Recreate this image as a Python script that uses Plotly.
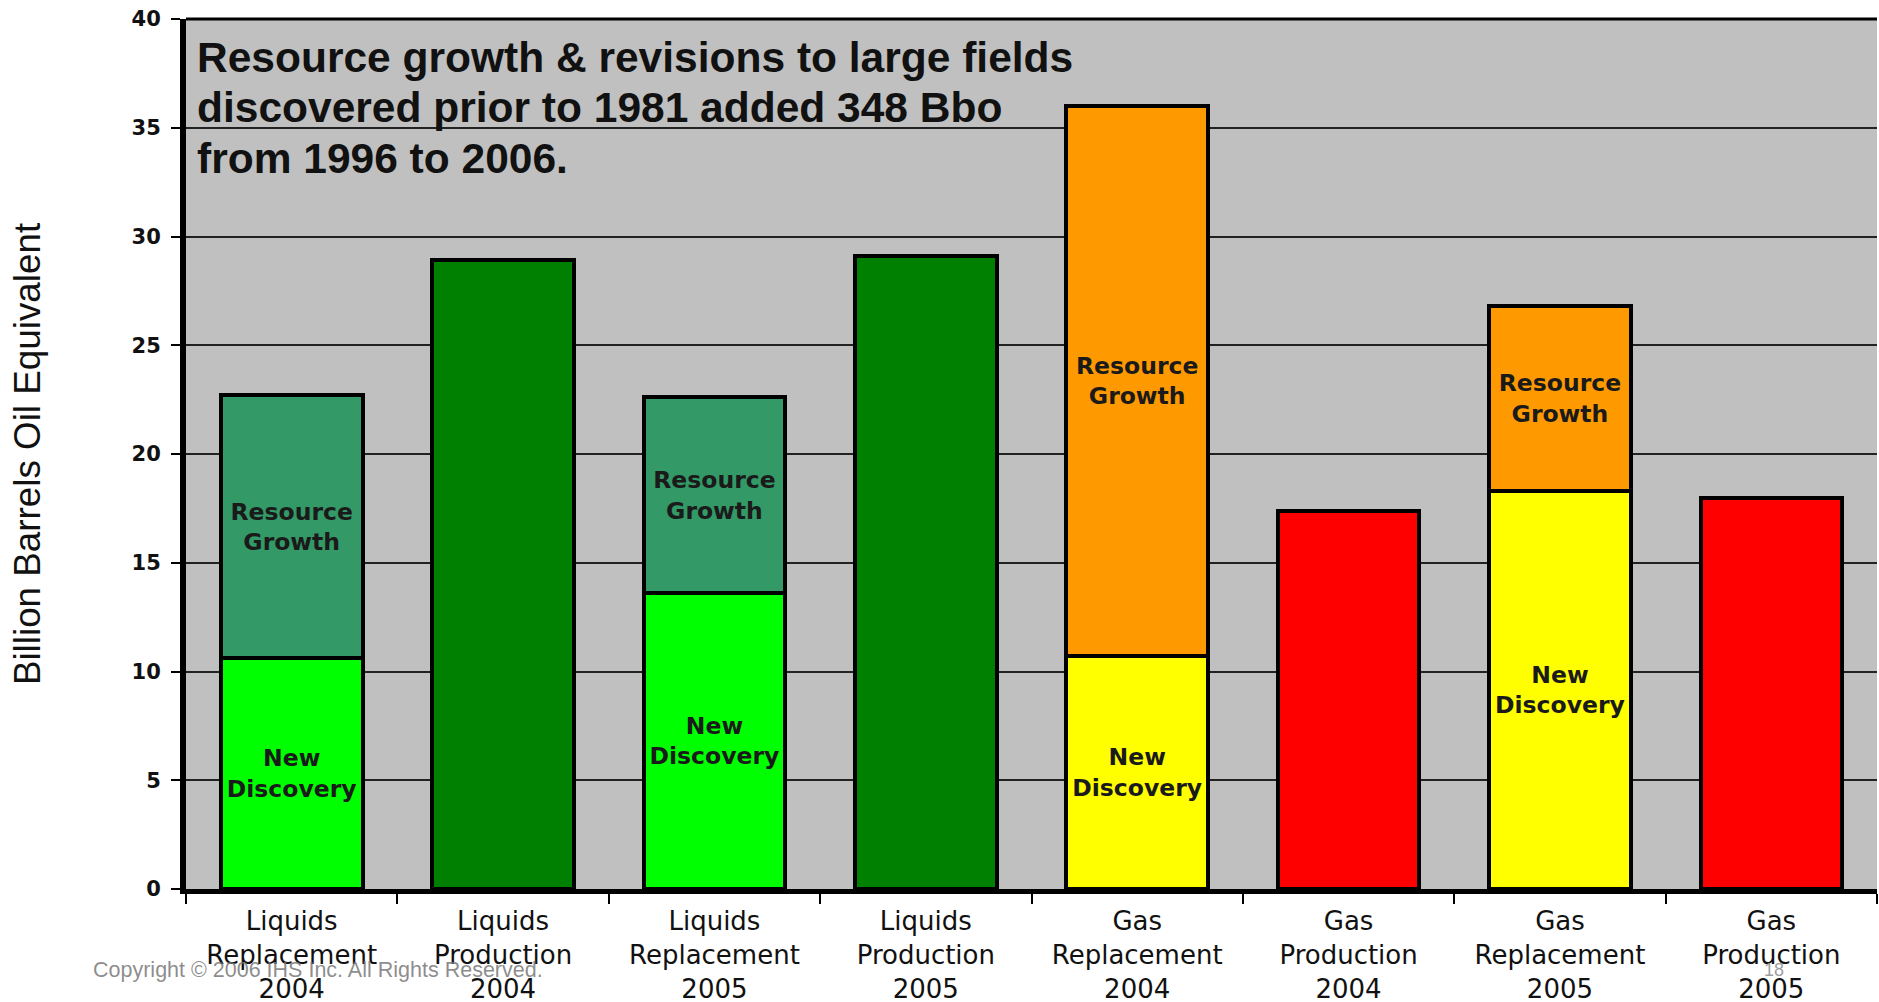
import plotly.graph_objects as go

categories = [
    "Liquids<br>Replacement<br>2004",
    "Liquids<br>Production<br>2004",
    "Liquids<br>Replacement<br>2005",
    "Liquids<br>Production<br>2005",
    "Gas<br>Replacement<br>2004",
    "Gas<br>Production<br>2004",
    "Gas<br>Replacement<br>2005",
    "Gas<br>Production<br>2005",
]

liquids_new_discovery = [10.6, None, 13.6, None, None, None, None, None]
liquids_resource_growth = [12.1, None, 9.0, None, None, None, None, None]
liquids_production = [None, 28.9, None, 29.1, None, None, None, None]
gas_new_discovery = [None, None, None, None, 10.7, None, 18.3, None]
gas_resource_growth = [None, None, None, None, 25.3, None, 8.5, None]
gas_production = [None, None, None, None, None, 17.4, None, 18.0]

nd_label = "New<br>Discovery"
rg_label = "Resource<br>Growth"

headline_lines = [
    "Resource growth &amp; revisions to large fields",
    "discovered prior to 1981 added 348 Bbo",
    "from 1996 to 2006.",
]

series = [
    (liquids_new_discovery, "#00FF00", nd_label),
    (liquids_resource_growth, "#339966", rg_label),
    (liquids_production, "#008000", None),
    (gas_new_discovery, "#FFFF00", nd_label),
    (gas_resource_growth, "#FF9900", rg_label),
    (gas_production, "#FF0000", None),
]

fig = go.Figure()
for vals, color, label in series:
    txt = [label if (v is not None and label) else "" for v in vals]
    fig.add_trace(go.Bar(
        x=categories, y=vals,
        marker=dict(color=color, line=dict(color="black", width=4)),
        text=txt, textposition="inside", insidetextanchor="middle",
        textangle=0,
        textfont=dict(family="DejaVu Sans", size=23.5, color="#1a1a1a", weight="bold"),
        hoverinfo="skip", showlegend=False,
    ))

annotations = []
line_y = [0.9557, 0.8979, 0.8400]
for txt, yy in zip(headline_lines, line_y):
    annotations.append(dict(
        xref="paper", yref="paper", x=0.0055, y=yy, xanchor="left", yanchor="middle",
        align="left", showarrow=False, text=txt,
        font=dict(family="Liberation Sans", size=42.5, color="#111111", weight="bold")))
annotations += [
    dict(xref="paper", yref="paper", x=-0.056, y=-0.093, xanchor="left", yanchor="middle",
         showarrow=False, text="Copyright © 2006 IHS Inc. All Rights Reserved.",
         font=dict(family="Liberation Sans", size=21.5, color="rgba(120,120,120,0.85)")),
    dict(xref="paper", yref="paper", x=0.939, y=-0.093, xanchor="center", yanchor="middle",
         showarrow=False, text="18",
         font=dict(family="Liberation Sans", size=18, color="rgba(140,140,140,0.85)")),
]

fig.update_layout(
    width=1879, height=1002,
    barmode="stack", bargap=0.33,
    plot_bgcolor="#C0C0C0", paper_bgcolor="white",
    margin=dict(l=186, r=2, t=19, b=113),
    showlegend=False,
    hovermode=False,
    xaxis=dict(
        automargin=False,
        tickson="boundaries", ticks="outside", ticklen=10, tickwidth=2, tickcolor="black",
        showline=True, linecolor="black", linewidth=5,
        ticklabelstandoff=5,
        tickfont=dict(family="DejaVu Sans", size=26, color="#111111"),
        showgrid=False, zeroline=False,
    ),
    yaxis=dict(
        automargin=False,
        range=[0, 40], dtick=5, tick0=0,
        ticks="outside", ticklen=9, tickwidth=2, tickcolor="black",
        showline=True, linecolor="black", linewidth=6,
        showgrid=True, gridcolor="#222222", gridwidth=1.5,
        zeroline=False,
        ticklabelstandoff=6, ticklabeloverflow="allow",
        tickfont=dict(family="DejaVu Sans", size=21, color="#111111", weight="bold"),
        title=dict(text="Billion Barrels Oil Equivalent",
                   font=dict(family="Liberation Sans", size=36.8, color="#111111"),
                   standoff=82),
    ),
    shapes=[dict(type="line", xref="paper", yref="paper", x0=0, x1=1, y0=1, y1=1,
                 line=dict(color="black", width=3))],
    annotations=annotations,
)

fig.write_html("out.html", config={"displayModeBar": False},
               post_script="document.body.style.margin='0';")
